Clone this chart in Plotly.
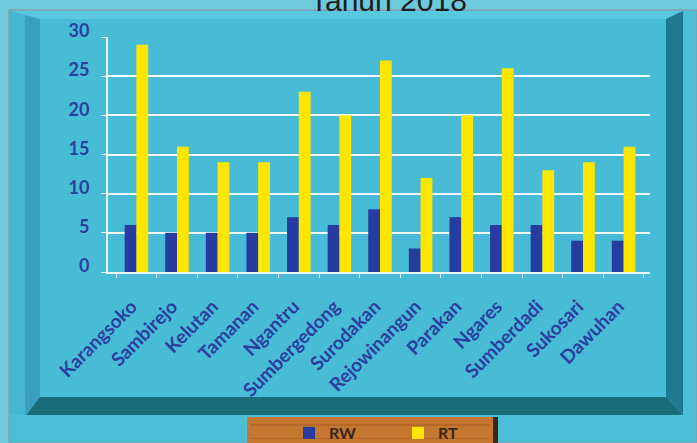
import plotly.graph_objects as go

# ---- data ----
villages = ["Karangsoko", "Sambirejo", "Kelutan", "Tamanan", "Ngantru", "Sumbergedong",
            "Surodakan", "Rejowinangun", "Parakan", "Ngares", "Sumberdadi", "Sukosari", "Dawuhan"]
rw_values = [6, 5, 5, 5, 7, 6, 8, 3, 7, 6, 6, 4, 4]
rt_values = [29, 16, 14, 14, 23, 20, 27, 12, 20, 26, 13, 14, 16]
y_ticks = [0, 5, 10, 15, 20, 25, 30]
title_text = "Tahun 2018"

# ---- geometry (pixels) ----
W, H = 697, 443
L, R, T, B = 108, 650, 37, 272


def px(x):
    return (x - L) / (R - L)


def py(y):
    return (B - y) / (B - T)


def poly(pts, color, line=None):
    path = "M " + " L ".join(f"{px(x):.5f},{py(y):.5f}" for x, y in pts) + " Z"
    return dict(type="path", xref="paper", yref="paper", path=path, fillcolor=color,
                line=dict(width=0) if line is None else line, layer="below")


shapes = [
    # outer frame
    poly([(9, 10), (697, 10), (697, 443), (9, 443)], "#4cbed8", dict(color="#9c8f96", width=1)),
    # inner face
    poly([(40, 19), (666, 19), (666, 397), (40, 397)], "#48bcd6"),
    # top bevel
    poly([(10, 11), (683, 11), (666, 19), (40, 19)], "#58c8e1"),
    # left bevel outer / inner
    poly([(10, 11), (25, 15), (25, 415), (10, 415)], "#47b6d2"),
    poly([(25, 15), (40, 19), (40, 397), (25, 415)], "#3a9fbd"),
    # right bevel
    poly([(666, 19), (683, 11), (683, 415), (666, 397)], "#1d7a90"),
    # bottom bevel
    poly([(26, 415), (40, 397), (666, 397), (683, 415)], "#1b6c7b"),
    # legend wood box
    poly([(247, 417), (493, 417), (493, 443), (247, 443)], "#c4772f"),
    poly([(250, 424), (490, 424), (490, 426), (250, 426)], "#b8692a"),
    poly([(250, 438), (490, 438), (490, 439), (250, 439)], "#b56628"),
    poly([(493, 417), (498, 417), (498, 443), (493, 443)], "#3b2818"),
]

fig = go.Figure()
fig.add_trace(go.Bar(name="RW", x=villages, y=rw_values,
                     marker=dict(color="#263c9e", line=dict(width=0))))
fig.add_trace(go.Bar(name="RT", x=villages, y=rt_values,
                     marker=dict(color="#ffe600", line=dict(width=0))))

fig.update_layout(
    width=W, height=H,
    margin=dict(l=L, r=W - R, t=T, b=H - B, pad=0, autoexpand=False),
    paper_bgcolor="#6dcadc",
    plot_bgcolor="rgba(0,0,0,0)",
    barmode="group", bargap=0.42, bargroupgap=0,
    shapes=shapes,
    showlegend=True,
    legend=dict(orientation="h", xref="container", yref="container",
                x=289 / W, y=(H - 433) / H, xanchor="left", yanchor="middle",
                bgcolor="rgba(0,0,0,0)", entrywidth=64, entrywidthmode="pixels",
                font=dict(family="Lato", size=16, color="#3a2616", weight="bold"),
                itemclick=False),
    annotations=[dict(text=title_text, x=px(388), y=py(19), xref="paper", yref="paper",
                      xanchor="center", yanchor="bottom", showarrow=False,
                      font=dict(family="Liberation Sans", size=30, color="#1e1e1e"))],
    xaxis=dict(range=[-0.7, 12.65], showgrid=False, showline=True, linecolor="#e8f6fa",
               linewidth=2, ticks="outside", tickson="boundaries", ticklen=4,
               tickcolor="#e8f6fa", tickangle=-45, ticklabelstandoff=14, ticklabelshift=-5,
               tickfont=dict(family="Lato", size=19, color="#2b3f9f", weight="bold")),
    yaxis=dict(range=[0, 30], tickvals=y_ticks, showgrid=True, gridcolor="#f4fbfd",
               gridwidth=2, zeroline=False, showline=True, linecolor="#e8f6fa",
               linewidth=2, ticks="outside", ticklen=5, tickcolor="#e8f6fa",
               ticklabelstandoff=8, ticklabelshift=-6,
               tickfont=dict(family="Lato", size=18, color="#2b3f9f", weight="bold")),
)

fig.write_html("out.html")
